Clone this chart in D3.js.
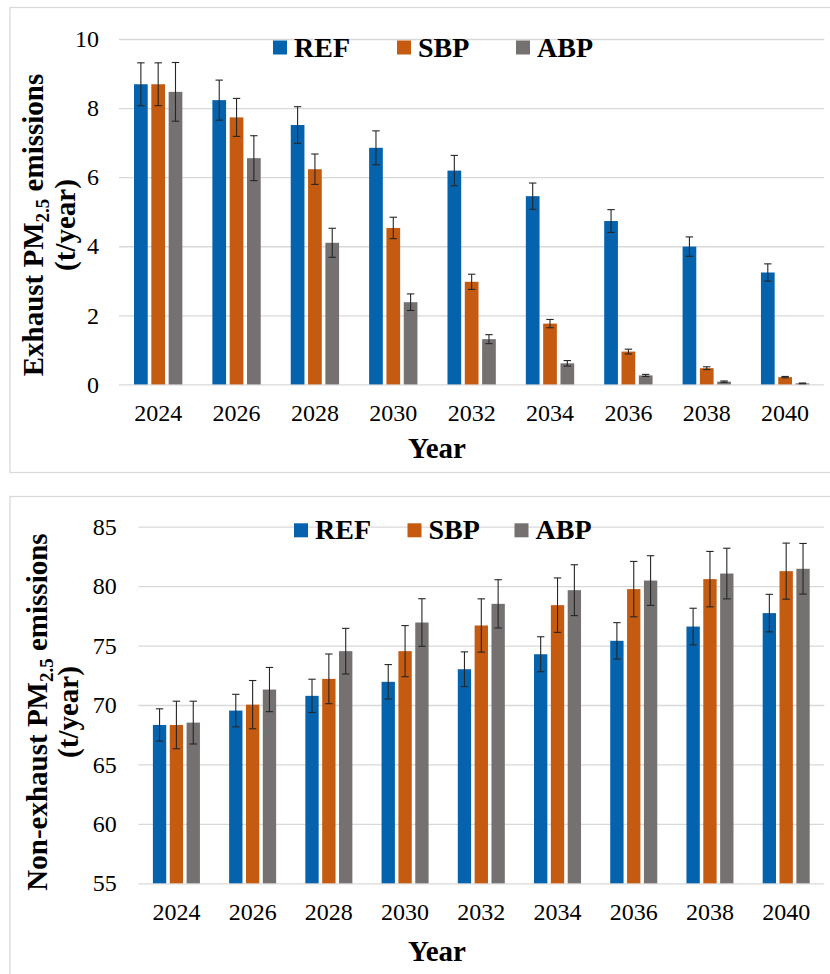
<!DOCTYPE html>
<html>
<head>
<meta charset="utf-8">
<script src="https://cdn.jsdelivr.net/npm/d3@7"></script>
<style>
    body { margin: 0; background: #fff; }
    svg { display: block; }
    .grid .tick line { stroke: #d9d9d9; stroke-width: 1.3; }
</style>
</head>
<body>
<script>
// emissions of PM2.5 per scenario
var years = ["2024", "2026", "2028", "2030", "2032", "2034", "2036", "2038", "2040"];
var scenarios = ["REF", "SBP", "ABP"];
var colors = ["#0563AE", "#C55A11", "#767171"];

var exhaustREF = [8.69, 8.23, 7.51, 6.85, 6.19, 5.45, 4.73, 3.99, 3.24];
var exhaustREFErr = [0.62, 0.58, 0.53, 0.49, 0.44, 0.38, 0.33, 0.28, 0.25];
var exhaustSBP = [8.69, 7.73, 6.23, 4.53, 2.97, 1.76, 0.95, 0.47, 0.21];
var exhaustSBPErr = [0.62, 0.55, 0.44, 0.31, 0.22, 0.12, 0.07, 0.04, 0.02];
var exhaustABP = [8.47, 6.55, 4.10, 2.38, 1.31, 0.61, 0.26, 0.08, 0.03];
var exhaustABPErr = [0.85, 0.65, 0.42, 0.24, 0.13, 0.08, 0.03, 0.02, 0.01];
var exhaustTicks = [0, 2, 4, 6, 8, 10];

var nonExhaustREF = [68.32, 69.53, 70.77, 71.95, 73.01, 74.27, 75.40, 76.60, 77.73];
var nonExhaustREFErr = [1.36, 1.37, 1.40, 1.45, 1.46, 1.47, 1.53, 1.54, 1.58];
var nonExhaustSBP = [68.32, 70.03, 72.20, 74.53, 76.69, 78.40, 79.75, 80.59, 81.26];
var nonExhaustSBPErr = [2.00, 2.03, 2.09, 2.15, 2.24, 2.29, 2.33, 2.33, 2.36];
var nonExhaustABP = [68.52, 71.30, 74.53, 76.94, 78.51, 79.66, 80.47, 81.06, 81.46];
var nonExhaustABPErr = [1.80, 1.86, 1.92, 2.00, 2.03, 2.14, 2.09, 2.13, 2.13];
var nonExhaustTicks = [55, 60, 65, 70, 75, 80, 85];

var svg = d3.select("body").append("svg")
    .attr("width", 830)
    .attr("height", 974);

var serif = "'Liberation Serif', serif";

// one chart panel: frame, grid, bars, error bars, legend and titles
function drawPanel(p) {
    svg.append("rect")
        .attr("x", 10).attr("y", p.frameTop)
        .attr("width", 840).attr("height", p.frameHeight)
        .attr("fill", "none")
        .attr("stroke", "#d9d9d9")
        .attr("stroke-width", 1.3);

    var x = d3.scaleBand().domain(years).range([p.left, p.right])
        .paddingInner(0).paddingOuter(0);
    var y = d3.scaleLinear().domain(p.domain).range([p.bottom, p.top]);

    var band = x.bandwidth(),
        barW = band * 0.175,
        step = band * 0.221;

    svg.append("g")
        .attr("class", "grid")
        .attr("transform", "translate(" + p.left + ",0)")
        .call(d3.axisLeft(y).tickValues(p.ticks).tickSize(-(p.right - p.left))
            .tickPadding(p.labelPad))
        .call(function(g) { g.select(".domain").remove(); })
        .attr("font-family", serif)
        .attr("font-size", 24);

    svg.append("g")
        .attr("transform", "translate(0," + p.bottom + ")")
        .call(d3.axisBottom(x).tickSize(0).tickPadding(p.yearPad))
        .call(function(g) { g.select(".domain").remove(); })
        .attr("font-family", serif)
        .attr("font-size", 24);

    p.series.forEach(function(s, i) {
        var off = (i - 1) * step;
        svg.append("g").selectAll("rect")
            .data(s.values)
            .join("rect")
            .attr("x", function(d, j) { return x(years[j]) + band / 2 + off - barW / 2; })
            .attr("y", function(d) { return y(d); })
            .attr("width", barW)
            .attr("height", function(d) { return y(p.domain[0]) - y(d); })
            .attr("fill", colors[i]);

        var eg = svg.append("g")
            .attr("stroke", "#262626")
            .attr("stroke-width", 1.1);
        s.values.forEach(function(v, j) {
            var cx = x(years[j]) + band / 2 + off,
                hi = y(v + s.err[j]),
                lo = y(v - s.err[j]);
            eg.append("line").attr("x1", cx).attr("x2", cx).attr("y1", hi).attr("y2", lo);
            eg.append("line").attr("x1", cx - 3.7).attr("x2", cx + 3.7).attr("y1", hi).attr("y2", hi);
            eg.append("line").attr("x1", cx - 3.7).attr("x2", cx + 3.7).attr("y1", lo).attr("y2", lo);
        });
    });

    // legend
    scenarios.forEach(function(name, i) {
        svg.append("rect")
            .attr("x", p.legendX[i]).attr("y", p.legendBase - 16)
            .attr("width", 14).attr("height", 14)
            .attr("fill", colors[i]);
        svg.append("text")
            .attr("x", p.legendX[i] + 21).attr("y", p.legendBase)
            .attr("font-family", serif).attr("font-size", 28).attr("font-weight", "bold")
            .text(name);
    });

    // x title
    svg.append("text")
        .attr("x", 437).attr("y", p.xTitleBase)
        .attr("text-anchor", "middle")
        .attr("font-family", serif).attr("font-size", 29).attr("font-weight", "bold")
        .text("Year");

    // y title, two lines
    var t1 = svg.append("text")
        .attr("transform", "translate(" + p.yTitleX[0] + "," + p.yTitleMid + ") rotate(-90)")
        .attr("text-anchor", "middle")
        .attr("font-family", serif).attr("font-size", 29).attr("font-weight", "bold");
    t1.append("tspan").text(p.yTitle + " PM");
    t1.append("tspan").attr("font-size", 19).attr("dy", 6).text("2.5");
    t1.append("tspan").attr("dy", -6).text(" emissions");

    svg.append("text")
        .attr("transform", "translate(" + p.yTitleX[1] + "," + p.yTitleMid + ") rotate(-90)")
        .attr("text-anchor", "middle")
        .attr("font-family", serif).attr("font-size", 29).attr("font-weight", "bold")
        .text("(t/year)");
}

drawPanel({
    frameTop: 7.5, frameHeight: 465,
    left: 119, right: 824.3, top: 39, bottom: 384.4,
    domain: [0, 10], ticks: exhaustTicks, labelPad: 20, yearPad: 19.5,
    series: [
        {values: exhaustREF, err: exhaustREFErr},
        {values: exhaustSBP, err: exhaustSBPErr},
        {values: exhaustABP, err: exhaustABPErr}
    ],
    legendX: [273, 397, 516], legendBase: 56.5,
    xTitleBase: 457.5,
    yTitle: "Exhaust", yTitleX: [43, 75], yTitleMid: 225
});

drawPanel({
    frameTop: 496.5, frameHeight: 500,
    left: 138.3, right: 824.3, top: 526.7, bottom: 883.3,
    domain: [55, 85], ticks: nonExhaustTicks, labelPad: 21.6, yearPad: 19.8,
    series: [
        {values: nonExhaustREF, err: nonExhaustREFErr},
        {values: nonExhaustSBP, err: nonExhaustSBPErr},
        {values: nonExhaustABP, err: nonExhaustABPErr}
    ],
    legendX: [294, 407.5, 514.5], legendBase: 539.3,
    xTitleBase: 961,
    yTitle: "Non-exhaust", yTitleX: [46.5, 78], yTitleMid: 712
});
</script>
</body>
</html>
